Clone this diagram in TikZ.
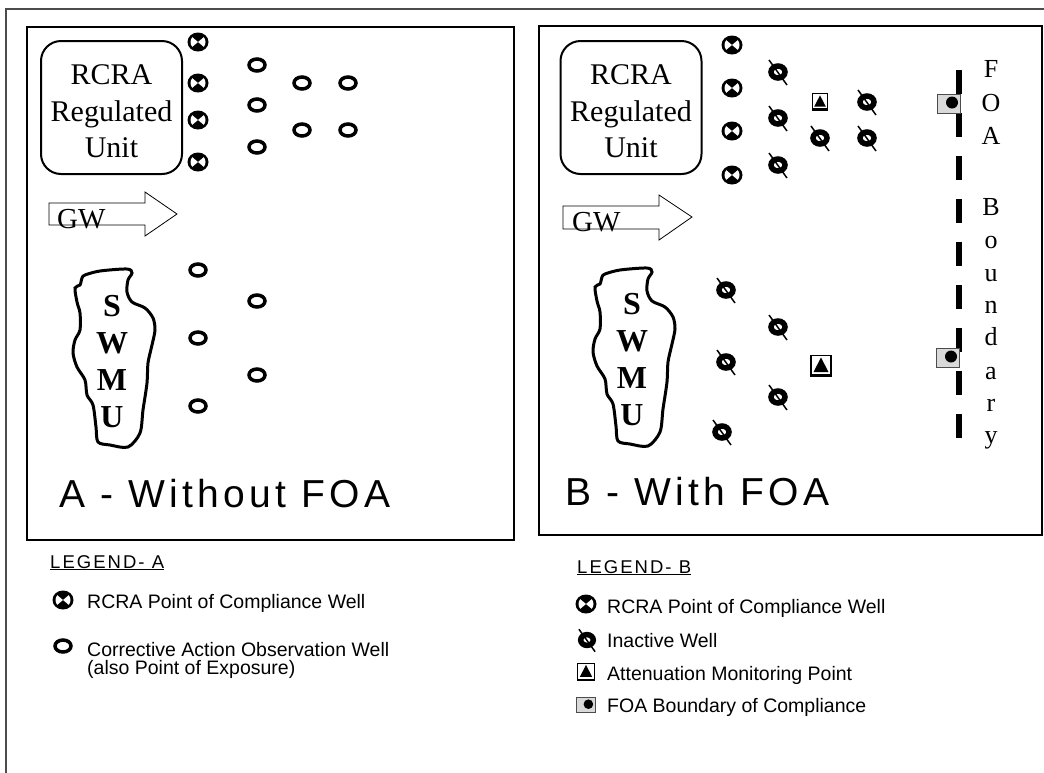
\documentclass[tikz,border=0pt]{standalone}
\usepackage{fontspec}
\setmainfont{Liberation Serif}
\newfontfamily\titlefont[LetterSpace=11]{Liberation Sans}
\newfontfamily\legendfont{Liberation Sans}
\newfontfamily\legendheadfont[LetterSpace=11]{Liberation Sans}
\definecolor{foagray}{gray}{0.85}

\tikzset{
  panel/.style={draw, line width=1.2pt},
  unitbox/.style={draw, line width=2pt, rounded corners=20pt, minimum width=141pt,
    minimum height=133pt, align=center, inner sep=0pt, font=\fontsize{30}{36.5}\selectfont},
  gwarrow/.style={draw, line width=0.8pt},
  gwtext/.style={anchor=base west, inner sep=0pt, font=\fontsize{29}{29}\selectfont},
  swmutext/.style={align=center, inner sep=0pt, font=\fontsize{32}{37}\selectfont\bfseries},
  foaletter/.style={anchor=base, inner sep=0pt, font=\fontsize{26}{26}\selectfont},
  foaline/.style={line width=6pt, dash pattern=on 24pt off 19pt},
  paneltitle/.style={anchor=base west, inner sep=0pt, font=\fontsize{39}{39}\titlefont},
  legendhead/.style={anchor=base west, inner sep=0pt, font=\fontsize{18.5}{18.5}\legendheadfont},
  legendtext/.style={anchor=base west, inner sep=0pt, font=\fontsize{19.5}{19.5}\legendfont},
  legendblock/.style={anchor=north west, inner sep=0pt, align=left, font=\fontsize{19.5}{17.5}\legendfont},
  % well symbols
  pocwell/.pic={
    \fill (0,0) ellipse (10.5 and 9.5);
    \fill[white] (0,0) -- (40:7.5) arc (40:-40:7.5) -- cycle;
    \fill[white] (0,0) -- (140:7.5) arc (140:220:7.5) -- cycle;
  },
  obswell/.pic={
    \draw[line width=3.5pt, fill=white] (0,0) ellipse (8 and 6);
  },
  inactwell/.pic={
    \draw[line width=5.5pt, fill=white] (0,0) ellipse (7 and 6);
    \draw[line width=1.5pt] (-9,-12) -- (9,13);
  },
  attenpt/.pic={
    \draw[line width=1.2pt, fill=white] (-10,-10.5) rectangle (10,10.5);
    \fill (-7.5,6) -- (7.5,6) -- (0,-8.5) -- cycle;
    \fill (-10,8) rectangle (10,10.5);
  },
  foapt/.pic={
    \draw[line width=0.8pt, draw=black!70, fill=foagray] (-11.5,-9.5) rectangle (11.5,9.5);
    \fill (3,-1) circle (6);
  },
  swmu/.pic={
    \draw[line width=3pt] plot[smooth cycle, tension=0.5] coordinates {
      (-27,-87) (-12,-91) (15,-93) (20,-89) (16,-82) (15,-70) (20,-60) (33,-54)
      (41,-44) (43,-32) (40,-17) (36,1) (35,21) (31,48) (28,71) (16,85) (-2,83)
      (-14,80) (-16,65) (-19,43) (-25,33) (-27,18) (-35,5) (-39,-9) (-37,-22)
      (-32,-32) (-32,-49) (-35,-60) (-37,-74) (-32,-77) (-30,-84)};
  }
}

\begin{document}
\begin{tikzpicture}[x=1pt, y=-1pt]
\useasboundingbox (0,0) rectangle (1044,772);
% Outer frame and panels
\draw[line width=1.5pt, black!70] (6,9) rectangle (1070,800);
\draw[panel] (27,27) rectangle (514,540);
\draw[panel] (539,26) rectangle (1042,535);

% ---------------- Panel A (without FOA) ----------------
\node[unitbox] (unitA) at (111.5,107.5) {\rule{0pt}{28pt}RCRA\\Regulated\\Unit};
% Groundwater arrow
\draw[gwarrow] (49,203) -- (145,203) -- (145,192) -- (177,214) -- (145,236) -- (145,225) -- (49,225) -- cycle;
\node[gwtext] (gwA) at (57,228) {GW};
% SWMU
\pic at (112,362) {swmu};
\node[swmutext] (swmuA) at (112,362) {S\\W\\M\\U};
% RCRA point of compliance wells
\pic at (198,42) {pocwell};
\pic at (198,83) {pocwell};
\pic at (198,120) {pocwell};
\pic at (198,162) {pocwell};
% Corrective action observation wells
\pic at (257,65) {obswell};
\pic at (257,105) {obswell};
\pic at (257,147) {obswell};
\pic at (302,83) {obswell};
\pic at (348,83) {obswell};
\pic at (302,130) {obswell};
\pic at (348,130) {obswell};
\pic at (198,270) {obswell};
\pic at (198,338) {obswell};
\pic at (198,406) {obswell};
\pic at (257,301) {obswell};
\pic at (257,375) {obswell};
% Title
\node[paneltitle] (titleA) at (59,507) {A - Without FOA};

% ---------------- Panel B (with FOA) ----------------
\node[unitbox] (unitB) at (631,107.5) {\rule{0pt}{28pt}RCRA\\Regulated\\Unit};
% Groundwater arrow
\draw[gwarrow] (563,206) -- (659,206) -- (659,195) -- (692,217) -- (659,240) -- (659,229) -- (563,229) -- cycle;
\node[gwtext] (gwB) at (572,231) {GW};
% SWMU
\pic at (632,361) {swmu};
\node[swmutext] (swmuB) at (632,360) {S\\W\\M\\U};
% RCRA point of compliance wells
\pic at (732,45) {pocwell};
\pic at (732,88) {pocwell};
\pic at (732,131) {pocwell};
\pic at (732,175) {pocwell};
% Inactive wells
\pic at (778,72) {inactwell};
\pic at (778,118) {inactwell};
\pic at (778,165) {inactwell};
\pic at (867,102) {inactwell};
\pic at (820,138) {inactwell};
\pic at (867,138) {inactwell};
\pic at (726,290) {inactwell};
\pic at (778,327) {inactwell};
\pic at (726,362) {inactwell};
\pic at (778,397) {inactwell};
\pic at (722,432) {inactwell};
% Attenuation monitoring points
\pic[scale=0.78] at (820,102) {attenpt};
\pic at (821,366) {attenpt};
% FOA boundary
\coordinate (foatop) at (959,70);
\coordinate (foabot) at (959,438);
\draw[foaline] (foatop) -- (foabot);
\pic at (949,103.5) {foapt};
\pic at (948,357.5) {foapt};
\foreach \ch/\yy in {F/77,O/111,A/144,B/215,o/248,u/281,n/313,d/345,a/379,r/411,y/443}
  \node[foaletter] (foa\ch) at (991,\yy) {\ch};
% Title
\node[paneltitle] (titleB) at (565,505) {B - With FOA};

% ---------------- Legends ----------------
\node[legendhead] (legA) at (50,568) {\underline{LEGEND- A}};
\pic at (63,600) {pocwell};
\node[legendtext] (legApoc) at (87,608) {RCRA Point of Compliance Well};
\pic at (63,646) {obswell};
\node[legendblock] (legAobs) at (87,642.5) {Corrective Action Observation Well\\(also Point of Exposure)};

\node[legendhead] (legB) at (577,573) {\underline{LEGEND- B}};
\pic at (586,604) {pocwell};
\node[legendtext] (legBpoc) at (607,613) {RCRA Point of Compliance Well};
\pic[scale=0.9] at (587,640) {inactwell};
\node[legendtext] (legBinact) at (607,647) {Inactive Well};
\pic[scale=0.83] at (586,672) {attenpt};
\node[legendtext] (legBatten) at (607,680) {Attenuation Monitoring Point};
\pic[scale=0.8] at (586,705) {foapt};
\node[legendtext] (legBfoa) at (607,712) {FOA Boundary of Compliance};
\end{tikzpicture}
\end{document}
